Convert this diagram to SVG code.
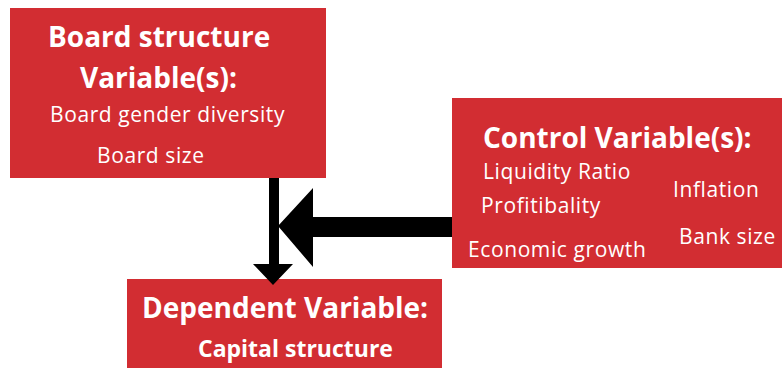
<svg xmlns="http://www.w3.org/2000/svg" width="782" height="368" viewBox="0 0 782 368">
<style>
.box{fill:#d22d32}
.t{fill:#fff;font-family:"Open Sans","Noto Sans",sans-serif}
.h{font-weight:bold;font-size:28px}
.s{font-size:21px;letter-spacing:0.6px}
.c{font-weight:bold;font-size:23px}
.arr{fill:#000}
</style>
<rect width="782" height="368" fill="#fff"/>
<g id="board">
<rect class="box" x="10" y="8" width="316" height="170"/>
<text class="t h" x="48" y="47">Board structure</text>
<text class="t h" x="80" y="88">Variable(s):</text>
<text class="t s" x="50" y="122">Board gender diversity</text>
<text class="t s" x="97" y="163">Board size</text>
</g>
<g id="control">
<rect class="box" x="452" y="98" width="330" height="170"/>
<text class="t h" x="483" y="148">Control Variable(s):</text>
<text class="t s" x="483" y="179">Liquidity Ratio</text>
<text class="t s" x="673" y="197">Inflation</text>
<text class="t s" x="481" y="213">Profitibality</text>
<text class="t s" x="679" y="244">Bank size</text>
<text class="t s" x="468" y="257">Economic growth</text>
</g>
<g id="dependent">
<rect class="box" x="127" y="279" width="315" height="89"/>
<text class="t h" x="142" y="318">Dependent Variable:</text>
<text class="t c" x="198" y="357">Capital structure</text>
</g>
<g id="connectors">
<path class="arr" d="M269 178 H279 V264 H293 L273 285 L253 264 H269 Z"/>
<path class="arr" d="M452 217 V237 H313 V267 L278 226 L313 188 V217 Z"/>
</g>
</svg>
